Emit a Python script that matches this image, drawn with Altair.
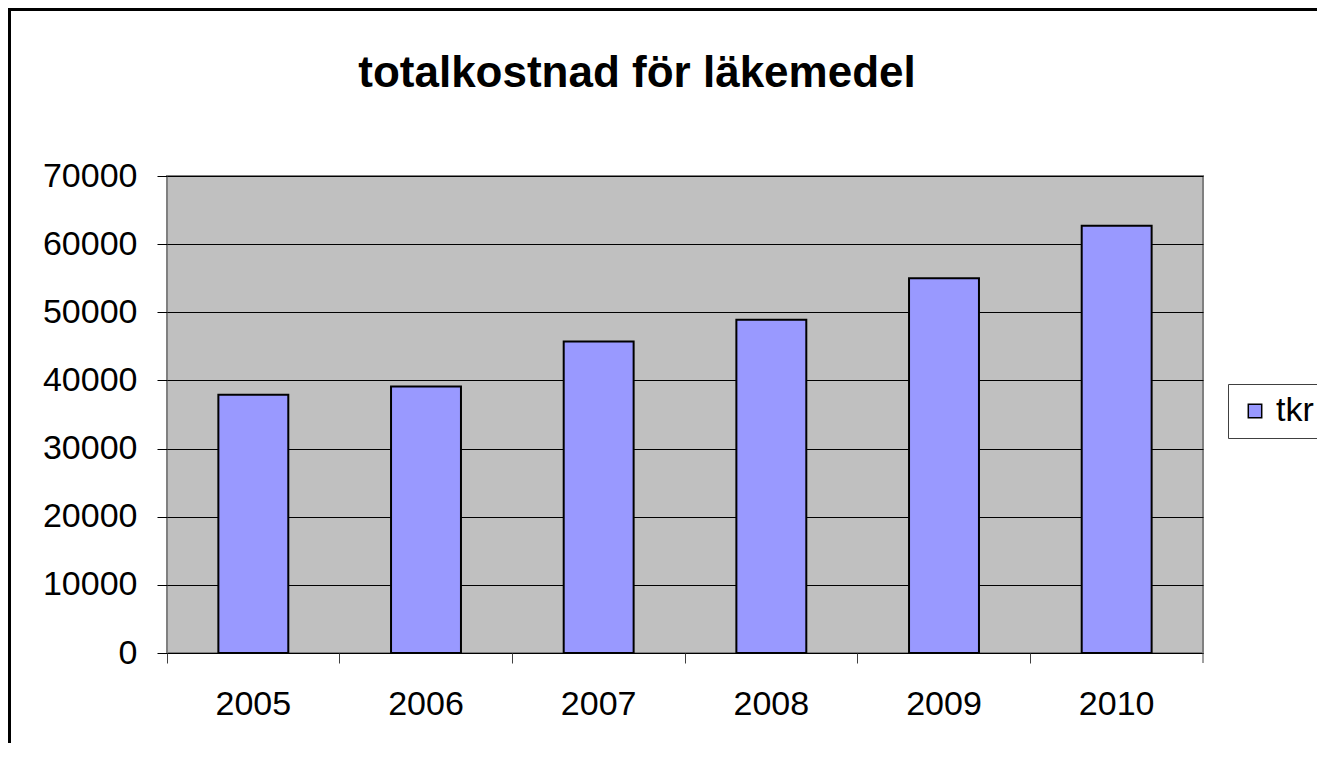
import altair as alt
import pandas as pd

# ---- data ----
years = ["2005", "2006", "2007", "2008", "2009", "2010"]
values = [37900, 39100, 45700, 48900, 55000, 62700]
series = ["tkr"] * len(years)
y_ticks = [0, 10000, 20000, 30000, 40000, 50000, 60000, 70000]
title_text = "totalkostnad för läkemedel"

df = pd.DataFrame({"year": years, "tkr": values, "series": series})

FONT = "Liberation Sans"
W, H = 1036, 477

bars = alt.Chart(df).mark_bar(
    width=alt.RelativeBandSize(0.405), stroke="black", strokeWidth=2
).encode(
    x=alt.X(
        "year:N", sort=years,
        scale=alt.Scale(paddingInner=0, paddingOuter=0),
        axis=alt.Axis(
            title=None, bandPosition=0, labelAngle=0,
            labelFontSize=34, labelFont=FONT, labelColor="black",
            tickSize=10, tickColor="#404040", tickWidth=1,
            labelPadding=24, domain=False, grid=False,
        ),
    ),
    y=alt.Y(
        "tkr:Q",
        scale=alt.Scale(domain=[0, 70000], nice=False),
        axis=alt.Axis(
            title=None, values=y_ticks, grid=True, gridColor="black", gridWidth=1,
            tickSize=10, tickColor="black", tickWidth=1, labelPadding=20,
            labelFontSize=34, labelFont=FONT, labelColor="black",
            domain=False, format="d",
        ),
    ),
    color=alt.Color(
        "series:N", scale=alt.Scale(range=["#9999FF"]),
        legend=alt.Legend(
            title=None, orient="none", legendX=1061, legendY=208,
            symbolType="square", symbolSize=180, symbolStrokeColor="black",
            symbolStrokeWidth=1.5, labelFontSize=34, labelFont=FONT,
            labelColor="black", padding=10, strokeColor="#404040",
            fillColor="white", labelOffset=4,
        ),
    ),
)

deco = pd.DataFrame({"d": [0]})
frame_left = alt.Chart(deco).mark_rule(color="black", strokeWidth=3).encode(
    x=alt.value(-157.5), y=alt.value(-168), y2=alt.value(900)
)
frame_top = alt.Chart(deco).mark_rule(color="black", strokeWidth=3).encode(
    x=alt.value(-159), x2=alt.value(1400), y=alt.value(-166.5)
)
last_tick = alt.Chart(deco).mark_rule(color="#404040", strokeWidth=1).encode(
    x=alt.value(W), y=alt.value(H), y2=alt.value(H + 10)
)

chart = alt.layer(frame_left, frame_top, bars, last_tick).properties(
    width=W, height=H,
    title=alt.TitleParams(
        title_text, fontSize=44, font=FONT, fontWeight="bold", color="black",
        anchor="middle", dx=-48, offset=0, dy=89,
    ),
    padding={"left": 159, "top": 168, "right": 114, "bottom": 90},
    autosize=alt.AutoSizeParams(type="none"),
).configure_view(
    stroke="#808080", strokeWidth=2, fill="#C0C0C0"
)

chart.save("out.html", embed_options={"renderer": "svg", "actions": False})
